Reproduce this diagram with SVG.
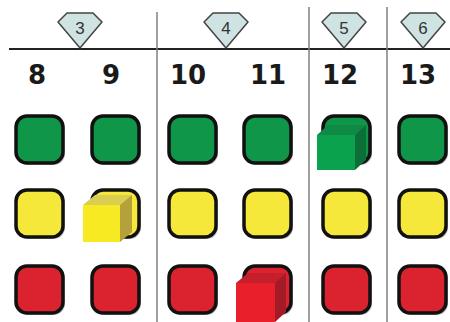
<svg xmlns="http://www.w3.org/2000/svg" width="450" height="322" viewBox="0 0 450 322">
<style>
.num{font-family:"DejaVu Sans","Liberation Sans",sans-serif;font-weight:bold;font-size:26px;fill:#1a1a1a;text-anchor:middle}
.dn{font-family:"Liberation Sans","DejaVu Sans",sans-serif;font-size:17px;fill:#333;text-anchor:middle}
.gem{fill:#cfe3e2;stroke:#444;stroke-width:1.5;stroke-linejoin:round}
.sq{stroke:#111;stroke-width:3.5}
.sh{fill:#c8c8c8}
.g{fill:#0f9649}
.y{fill:#f6e83a}
.r{fill:#da232f}
.vl{stroke:#808080;stroke-width:1.5}
</style>
<defs>
<g id="gemshape"><polygon class="gem" points="-13,13 13,13 22,22 0,48 -22,22"/></g>
<rect id="box" x="0" y="0" width="47" height="47" rx="11"/>
</defs>
<rect width="450" height="322" fill="#fff"/>
<g id="connectors">
<line x1="9" y1="49" x2="450" y2="49" stroke="#222" stroke-width="2"/>
<line class="vl" x1="157" y1="12" x2="157" y2="322"/>
<line class="vl" x1="309" y1="7" x2="309" y2="322"/>
<line class="vl" x1="387" y1="7" x2="387" y2="322"/>
</g>
<g id="gem3"><use href="#gemshape" x="80"/><text class="dn" x="80" y="34">3</text></g>
<g id="gem4"><use href="#gemshape" x="226"/><text class="dn" x="226" y="34">4</text></g>
<g id="gem5"><use href="#gemshape" x="344"/><text class="dn" x="344" y="34">5</text></g>
<g id="gem6"><use href="#gemshape" x="423"/><text class="dn" x="423" y="34">6</text></g>
<g id="labels">
<text class="num" x="37" y="84">8</text>
<text class="num" x="111" y="84">9</text>
<text class="num" x="188" y="84">10</text>
<text class="num" x="268" y="84">11</text>
<text class="num" x="340" y="84">12</text>
<text class="num" x="418" y="84">13</text>
</g>
<g id="col8">
<use href="#box" class="sh" x="18" y="118"/><use href="#box" class="sq g" x="16" y="116"/>
<use href="#box" class="sh" x="18" y="192"/><use href="#box" class="sq y" x="16" y="190"/>
<use href="#box" class="sh" x="18" y="268"/><use href="#box" class="sq r" x="16" y="266"/>
</g>
<g id="col9">
<use href="#box" class="sh" x="94" y="118"/><use href="#box" class="sq g" x="92" y="116"/>
<use href="#box" class="sh" x="94" y="192"/><use href="#box" class="sq y" x="92" y="190"/>
<use href="#box" class="sh" x="94" y="268"/><use href="#box" class="sq r" x="92" y="266"/>
</g>
<g id="col10">
<use href="#box" class="sh" x="171" y="118"/><use href="#box" class="sq g" x="169" y="116"/>
<use href="#box" class="sh" x="171" y="192"/><use href="#box" class="sq y" x="169" y="190"/>
<use href="#box" class="sh" x="171" y="268"/><use href="#box" class="sq r" x="169" y="266"/>
</g>
<g id="col11">
<use href="#box" class="sh" x="246" y="118"/><use href="#box" class="sq g" x="244" y="116"/>
<use href="#box" class="sh" x="246" y="192"/><use href="#box" class="sq y" x="244" y="190"/>
<use href="#box" class="sh" x="246" y="268"/><use href="#box" class="sq r" x="244" y="266"/>
</g>
<g id="col12">
<use href="#box" class="sh" x="325" y="118"/><use href="#box" class="sq g" x="323" y="116"/>
<use href="#box" class="sh" x="325" y="192"/><use href="#box" class="sq y" x="323" y="190"/>
<use href="#box" class="sh" x="325" y="268"/><use href="#box" class="sq r" x="323" y="266"/>
</g>
<g id="col13">
<use href="#box" class="sh" x="401" y="118"/><use href="#box" class="sq g" x="399" y="116"/>
<use href="#box" class="sh" x="401" y="192"/><use href="#box" class="sq y" x="399" y="190"/>
<use href="#box" class="sh" x="401" y="268"/><use href="#box" class="sq r" x="399" y="266"/>
</g>
<g id="cube-green">
<polygon points="317,135 328,125 366,125 355,135" fill="#0e8a44"/>
<polygon points="355,135 366,125 366,160 355,170" fill="#0b6f37"/>
<rect x="317" y="135" width="38" height="35" fill="#0aa24c"/>
</g>
<g id="cube-yellow">
<polygon points="83,205 95,195 132,195 120,205" fill="#d9cd52"/>
<polygon points="120,205 132,195 132,232 120,242" fill="#b3a23c"/>
<rect x="83" y="205" width="37" height="37" fill="#f8ea22"/>
</g>
<g id="cube-red">
<polygon points="236,283 248,273 286,273 275,283" fill="#c41f2b"/>
<polygon points="275,283 286,273 286,312 275,322" fill="#a31b27"/>
<rect x="236" y="283" width="39" height="39" fill="#e9202b"/>
</g>
</svg>
